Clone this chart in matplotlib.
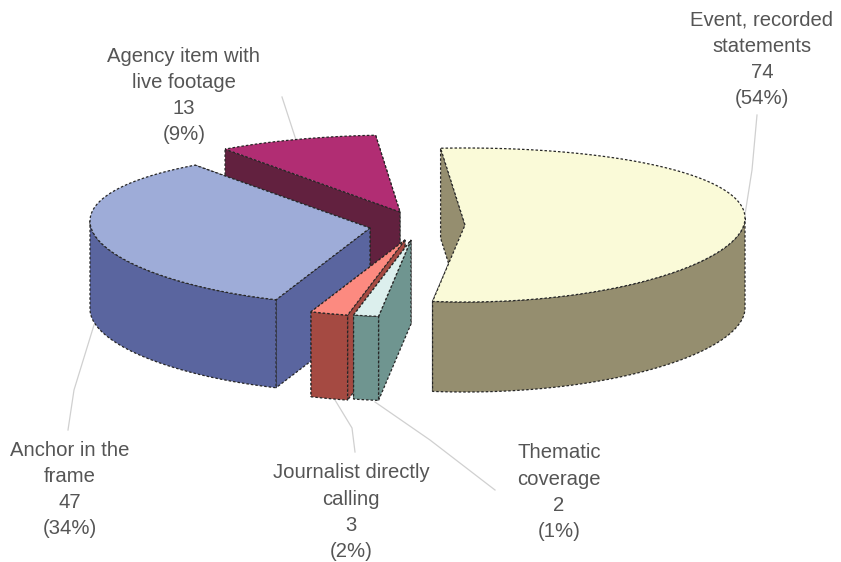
"""Exploded 3D-style pie chart: types of news items."""

import numpy as np
import matplotlib
matplotlib.use('Agg')
import matplotlib.pyplot as plt
from matplotlib.patches import Polygon

plt.rcParams['font.family'] = ['Liberation Sans', 'DejaVu Sans']

# ── Data ──────────────────────────────────────────────────────────────────

labels = ["Event, recorded\nstatements", "Thematic\ncoverage",
          "Journalist directly\ncalling", "Anchor in the\nframe",
          "Agency item with\nlive footage"]
values = [74, 2, 3, 47, 13]
percents = ["(54%)", "(1%)", "(2%)", "(34%)", "(9%)"]

# ── Style and layout (pixel coordinates of the reference) ─────────────────

top_colors = ["#fafad8", "#dcefed", "#fc8a80", "#9eacd8", "#b12d73"]
side_colors = ["#958e6f", "#6f9590", "#a54a42", "#5a659f", "#62213f"]
centers = [(465, 225), (411, 240), (405, 240), (370, 228), (400, 212)]
depths = [90, 84, 85, 88, 88]
label_pos = [(762, 20), (559, 453), (351, 473), (70, 450), (184, 56)]
leaders = [
    [(757, 115), (752, 170), (741, 240)],
    [(495, 490), (430, 440), (375, 402)],
    [(355, 452), (352, 428), (335, 400)],
    [(68, 430), (74, 390), (94, 325)],
    [(282, 97), (296, 140)],
]
RX, RY = 280, 77
SAG = 7    # the widest point of the rim sits a little above the centre
START = -5
LINE_STEP = 26.2
EDGE = dict(edgecolor="#262626", linewidth=0.9, linestyle=(0, (2, 1.6)))


def rim(center, t):
    """Point on the rim, t in degrees clockwise from twelve o'clock."""
    t = np.radians(t)
    return np.column_stack([center[0] + RX * np.sin(t),
                            center[1] - RY * np.cos(t) - SAG * np.sin(t) ** 2])


def draw_slice(ax, center, a1, a2, depth, top, side):
    drop = np.array([0, depth])
    apex = np.array(center, dtype=float)
    # radial walls
    for a in (a2, a1):
        p = rim(center, a)[0]
        ax.add_patch(Polygon([p, apex, apex + drop, p + drop],
                             facecolor=side, **EDGE))
    # outer wall, front half only
    f1, f2 = max(a1, 90), min(a2, 270)
    if f2 > f1:
        arc = rim(center, np.linspace(f1, f2, 80))
        ax.add_patch(Polygon(np.vstack([arc, arc[::-1] + drop]),
                             facecolor=side, **EDGE))
    # top face
    arc = rim(center, np.linspace(a1, a2, 120))
    ax.add_patch(Polygon(np.vstack([apex, arc]), facecolor=top, **EDGE))


fig = plt.figure(figsize=(8.41, 5.62), dpi=100)
ax = fig.add_axes([0, 0, 1, 1])
ax.set_xlim(0, 841)
ax.set_ylim(562, 0)
ax.axis("off")

angles = START + np.cumsum([0] + values) / sum(values) * 360

# leader lines go under the slices
for pts in leaders:
    xs, ys = zip(*pts)
    ax.plot(xs, ys, color="#d0d0d0", linewidth=0.9, zorder=1)

# back to front: agency, anchor, journalist, thematic, event
for i in (4, 3, 2, 1, 0):
    draw_slice(ax, centers[i], angles[i], angles[i + 1], depths[i],
               top_colors[i], side_colors[i])

for i, (name, val, pct) in enumerate(zip(labels, values, percents)):
    x, y = label_pos[i]
    for j, line in enumerate(name.split("\n") + [str(val), pct]):
        ax.text(x, y + j * LINE_STEP, line, ha="center", va="center",
                fontsize=14.6, color="#555555", zorder=5)

fig.savefig("out.png", dpi=100, facecolor="white")
